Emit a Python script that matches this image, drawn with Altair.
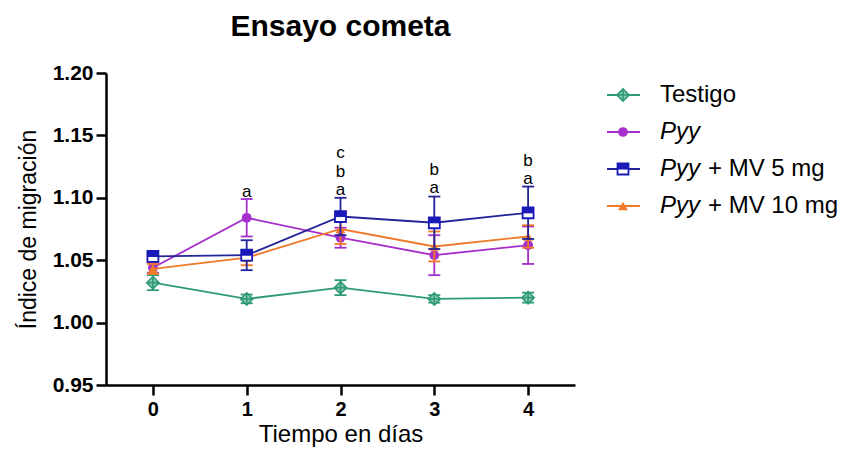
import altair as alt
import pandas as pd

# ---------------- data ----------------
days = [0, 1, 2, 3, 4]
series_names = ["Testigo", "Pyy", "Pyy + MV 5 mg", "Pyy + MV 10 mg"]

testigo_mean = [1.032, 1.019, 1.028, 1.019, 1.020]
testigo_err = [0.006, 0.0035, 0.006, 0.003, 0.004]
pyy_mean = [1.044, 1.084, 1.068, 1.054, 1.062]
pyy_err = [0.004, 0.015, 0.008, 0.016, 0.015]
mv5_mean = [1.053, 1.054, 1.085, 1.080, 1.088]
mv5_err = [0.003, 0.012, 0.015, 0.021, 0.021]
mv10_mean = [1.043, 1.052, 1.075, 1.061, 1.069]
mv10_err = [0.004, 0.006, 0.012, 0.012, 0.009]

letter_days = [1, 2, 2, 2, 3, 3, 4, 4]
letter_text = ["a", "a", "b", "c", "a", "b", "a", "b"]
letter_pos = [1.105, 1.1062, 1.1210, 1.1358, 1.1075, 1.1223, 1.115, 1.1298]

y_ticks = [0.95, 1.00, 1.05, 1.10, 1.15, 1.20]

colors = ["#2e9a78", "#a62fcc", "#1a1ab8", "#ee7a2a"]
line_colors = ["#2e9a78", "#a62fcc", "#23239a", "#ee7a2a"]

FONT = "Liberation Sans"

means = [testigo_mean, pyy_mean, mv5_mean, mv10_mean]
errs = [testigo_err, pyy_err, mv5_err, mv10_err]
rows = []
for name, ms, es in zip(series_names, means, errs):
    for d, m, e in zip(days, ms, es):
        rows.append({"day": d, "series": name, "mean": m, "lo": m - e, "hi": m + e})
df = pd.DataFrame(rows)
letters_df = pd.DataFrame({"day": letter_days, "txt": letter_text, "pos": letter_pos})

xscale = alt.Scale(domain=[-0.5, 4.5], nice=False, zero=False)
yscale = alt.Scale(domain=[0.95, 1.20], nice=False, zero=False)
xaxis = alt.Axis(values=days, format="d", title="Tiempo en días", tickSize=10,
                 labelPadding=4, labelFontSize=20, labelFontWeight="bold",
                 titleFontSize=24, titleFontWeight="normal", titlePadding=3,
                 labelFont=FONT, titleFont=FONT)
yaxis = alt.Axis(values=y_ticks, format=".2f", title="Índice de migración", tickSize=10,
                 labelPadding=3, labelFontSize=21, labelFontWeight="bold",
                 titleFontSize=23, titleFontWeight="normal", titlePadding=12,
                 labelFont=FONT, titleFont=FONT)


def X(field):
    return alt.X(field, type="quantitative", scale=xscale, axis=xaxis)


def Y(field):
    return alt.Y(field, type="quantitative", scale=yscale, axis=yaxis)


DIAMOND = "M0,-1L1,0L0,1L-1,0Z M0,-1L0,1 M-1,0L1,0"
HALF = "M-1,-1L1,-1L1,0.1L-1,0.1Z"

layers = []
order = [0, 1, 3, 2]
for i in order:
    name = series_names[i]
    c = colors[i]
    lc = line_colors[i]
    base = alt.Chart(df[df["series"] == name])
    layers.append(base.mark_line(color=lc, strokeWidth=1.8).encode(x=X("day"), y=Y("mean")))
    layers.append(base.mark_rule(color=lc, strokeWidth=1.8).encode(x=X("day"), y=Y("lo"), y2="hi:Q"))
    layers.append(base.mark_rule(color=lc, strokeWidth=1.8, xOffset=-6, x2Offset=6).encode(
        x=X("day"), x2="day:Q", y=Y("hi")))
    layers.append(base.mark_rule(color=lc, strokeWidth=1.8, xOffset=-6, x2Offset=6).encode(
        x=X("day"), x2="day:Q", y=Y("lo")))
    if i == 0:
        layers.append(base.mark_point(shape=DIAMOND, size=150, filled=True, fill="#8ccbb2",
                                      stroke=c, strokeWidth=1.6, opacity=1).encode(x=X("day"), y=Y("mean")))
    elif i == 1:
        layers.append(base.mark_point(shape="circle", size=95, filled=True, color=c, opacity=1).encode(
            x=X("day"), y=Y("mean")))
    elif i == 2:
        layers.append(base.mark_point(shape="square", size=120, filled=True, fill="white",
                                      stroke=c, strokeWidth=1.8, opacity=1).encode(x=X("day"), y=Y("mean")))
        layers.append(base.mark_point(shape=HALF, size=120, filled=True, color=c, opacity=1).encode(
            x=X("day"), y=Y("mean")))
    else:
        layers.append(base.mark_point(shape="triangle-up", size=100, filled=True, color=c, opacity=1).encode(
            x=X("day"), y=Y("mean")))

# significance letters
layers.append(alt.Chart(letters_df).mark_text(fontSize=17, font=FONT, color="black",
                                              baseline="middle").encode(
    x=X("day"), y=Y("pos"), text="txt:N"))

# manual legend (symbol + text), positions relative to plot area
one = pd.DataFrame({"k": [0]})
leg_y0 = 22
leg_dy = 37
for j, name in enumerate(series_names):
    yy = leg_y0 + leg_dy * j
    c = colors[j]
    lc = line_colors[j]
    b = alt.Chart(one)
    layers.append(b.mark_rule(color=lc, strokeWidth=1.8).encode(
        x=alt.value(501), x2=alt.value(534), y=alt.value(yy)))
    if j == 0:
        layers.append(b.mark_point(shape=DIAMOND, size=150, filled=True, fill="#8ccbb2",
                                   stroke=c, strokeWidth=1.6, opacity=1).encode(
            x=alt.value(517), y=alt.value(yy)))
        layers.append(b.mark_text(align="left", baseline="middle", fontSize=24, font=FONT,
                                  color="black").encode(x=alt.value(554), y=alt.value(yy),
                                                        text=alt.value(name)))
    else:
        if j == 1:
            layers.append(b.mark_point(shape="circle", size=95, filled=True, color=c, opacity=1).encode(
                x=alt.value(517), y=alt.value(yy)))
        elif j == 2:
            layers.append(b.mark_point(shape="square", size=120, filled=True, fill="white",
                                       stroke=c, strokeWidth=1.8, opacity=1).encode(
                x=alt.value(517), y=alt.value(yy)))
            layers.append(b.mark_point(shape=HALF, size=120, filled=True, color=c, opacity=1).encode(
                x=alt.value(517), y=alt.value(yy)))
        else:
            layers.append(b.mark_point(shape="triangle-up", size=100, filled=True, color=c, opacity=1).encode(
                x=alt.value(517), y=alt.value(yy)))
        layers.append(b.mark_text(align="left", baseline="middle", fontSize=24, font=FONT,
                                  fontStyle="italic", color="black").encode(
            x=alt.value(554), y=alt.value(yy), text=alt.value("Pyy")))
        rest = name[3:]
        if rest:
            layers.append(b.mark_text(align="left", baseline="middle", fontSize=24, font=FONT,
                                      color="black").encode(
                x=alt.value(602), y=alt.value(yy), text=alt.value(rest.strip())))

chart = alt.layer(*layers).properties(
    width=469,
    height=312,
    title=alt.Title("Ensayo cometa", fontSize=30, font=FONT, fontWeight="bold",
                    anchor="middle", frame="group", offset=20, color="black"),
    autosize=alt.AutoSizeParams(type="none"),
    padding={"left": 98, "top": 65, "right": 271, "bottom": 65},
).configure_view(stroke=None).configure_axis(
    grid=False, domainColor="black", tickColor="black", domainWidth=2.5, tickWidth=2.5,
    labelColor="black", titleColor="black",
)

chart.save("out.html", embed_options={"renderer": "svg", "actions": False})
